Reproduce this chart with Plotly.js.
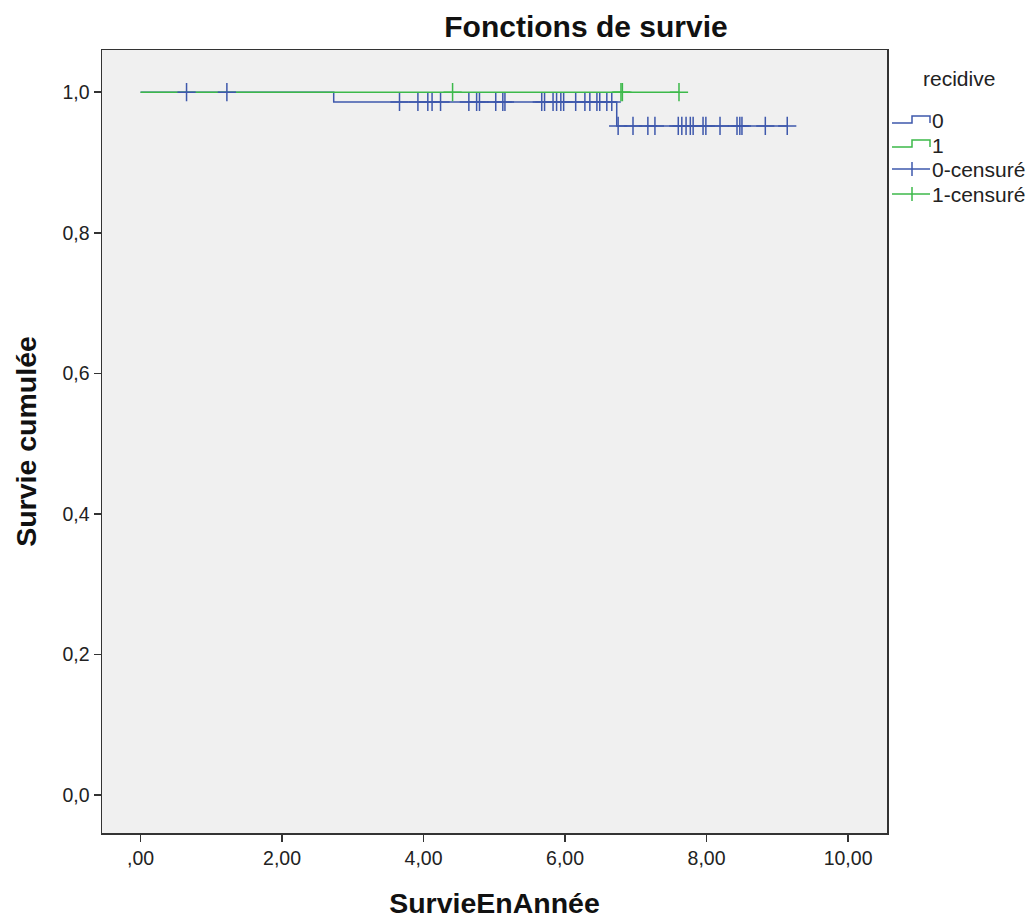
<!DOCTYPE html>
<html>
<head>
<meta charset="utf-8">
<script src="https://cdn.plot.ly/plotly-3.0.1.min.js"></script>
<style>html,body{margin:0;padding:0;background:#fff;}#chart{width:1031px;height:920px;}</style>
</head>
<body>
<div id="chart"></div>
<script>
// recidive = 0 (blue)
const blueEventTimes = [0, 2.73, 6.73];
const blueSurvival = [1.0, 0.986, 0.952];
const blueCensorTimes = [0.65, 1.22, 3.66, 3.92, 4.06, 4.12, 4.24, 4.64, 4.75, 4.79, 5.02, 5.12, 5.15,
  5.67, 5.71, 5.83, 5.88, 5.94, 5.98, 6.15, 6.28, 6.35, 6.45, 6.49, 6.59, 6.66,
  6.75, 6.96, 7.17, 7.27, 7.60, 7.65, 7.71, 7.77, 7.81, 7.95, 7.99, 8.19, 8.43, 8.47, 8.50, 8.83, 9.14];
// recidive = 1 (green)
const greenEventTimes = [0];
const greenSurvival = [1.0];
const greenCensorTimes = [4.41, 6.79, 6.81, 7.61];

const yTickVals = [0, 0.2, 0.4, 0.6, 0.8, 1.0];
const yTickText = ["0,0", "0,2", "0,4", "0,6", "0,8", "1,0"];
const xTickVals = [0, 2, 4, 6, 8, 10];
const xTickText = [",00", "2,00", "4,00", "6,00", "8,00", "10,00"];
const legendTitle = "recidive";
const legendLabels = ["0", "1", "0-censuré", "1-censuré"];

const BLUE = "#3E58AC";
const GREEN = "#3CB94A";

function survAt(times, surv, t) {
  let s = surv[0];
  for (let i = 0; i < times.length; i++) if (times[i] <= t) s = surv[i];
  return s;
}
function curve(times, surv, censors) {
  const last = Math.max(times[times.length - 1], ...censors);
  return { x: times.concat([last]), y: surv.concat([surv[surv.length - 1]]) };
}
function censorPts(times, surv, censors) {
  const x = [], y = [];
  censors.forEach(t => { x.push(t); y.push(survAt(times, surv, t)); });
  return { x, y };
}

const bc = curve(blueEventTimes, blueSurvival, blueCensorTimes);
const gc = curve(greenEventTimes, greenSurvival, greenCensorTimes);
const bm = censorPts(blueEventTimes, blueSurvival, blueCensorTimes);
const gm = censorPts(greenEventTimes, greenSurvival, greenCensorTimes);

const traces = [
  { x: bc.x, y: bc.y, mode: "lines", line: { shape: "hv", color: BLUE, width: 1.5 }, name: legendLabels[0], hoverinfo: "skip" },
  { x: gc.x, y: gc.y, mode: "lines", line: { shape: "hv", color: GREEN, width: 1.5 }, name: legendLabels[1], hoverinfo: "skip" },
  { x: bm.x, y: bm.y, mode: "markers",
    marker: { symbol: "cross-thin-open", size: 13, color: BLUE, line: { color: BLUE, width: 1.5 } }, name: legendLabels[2], hoverinfo: "skip" },
  { x: gm.x, y: gm.y, mode: "markers",
    marker: { symbol: "cross-thin-open", size: 13, color: GREEN, line: { color: GREEN, width: 1.5 } }, name: legendLabels[3], hoverinfo: "skip" }
];

// ---- layout geometry (pixels) ----
const W = 1031, H = 920, ML = 102, MR = 144, MT = 50, MB = 87;
const PW = W - ML - MR, PH = H - MT - MB;
const px = v => (v - ML) / PW;          // pixel x -> paper x
const py = v => (H - MB - v) / PH;      // pixel y -> paper y

const FONT = "Liberation Sans, Arial, sans-serif";
const legendColors = [BLUE, GREEN, BLUE, GREEN];
const itemY = [121, 145, 169, 194];
const shapes = [];
const annotations = [
  { text: legendTitle, xref: "paper", yref: "paper", x: px(959), y: py(78), xanchor: "center", yanchor: "middle",
    showarrow: false, font: { size: 21, family: FONT, color: "#222" } }
];
legendLabels.forEach((lab, i) => {
  const c = legendColors[i], y = itemY[i];
  if (i < 2) {
    shapes.push({ type: "path", xref: "paper", yref: "paper",
      path: `M ${px(892)},${py(y + 2)} H ${px(912)} V ${py(y - 5)} H ${px(930)} V ${py(y + 2)}`,
      line: { color: c, width: 1.5 } });
  } else {
    shapes.push({ type: "line", xref: "paper", yref: "paper", x0: px(892), x1: px(930), y0: py(y), y1: py(y), line: { color: c, width: 1.5 } });
    shapes.push({ type: "line", xref: "paper", yref: "paper", x0: px(912), x1: px(912), y0: py(y - 7), y1: py(y + 7), line: { color: c, width: 1.5 } });
  }
  annotations.push({ text: lab, xref: "paper", yref: "paper", x: px(930), y: py(y), xanchor: "left", yanchor: "middle",
    showarrow: false, font: { size: 21, family: FONT, color: "#222" } });
});

const layout = {
  width: W, height: H,
  margin: { l: ML, r: MR, t: MT, b: MB, autoexpand: false },
  paper_bgcolor: "#ffffff",
  plot_bgcolor: "#F0F0F0",
  font: { family: FONT, color: "#222" },
  showlegend: false,
  title: { text: "<b>Fonctions de survie</b>", font: { size: 30, family: FONT, color: "#111" },
           x: px(586), xanchor: "center", xref: "paper", y: 0.971, yanchor: "middle" },
  xaxis: {
    range: [-0.545, 10.55], showgrid: false, zeroline: false,
    tickvals: xTickVals, ticktext: xTickText, ticks: "outside", ticklen: 7, tickwidth: 1.5, tickcolor: "#333",
    tickfont: { size: 19.5, family: FONT, color: "#222" },
    showline: true, mirror: true, linecolor: "#333", linewidth: 1.5,
    title: { text: "<b>SurvieEnAnnée</b>", font: { size: 28.5, family: FONT, color: "#111" }, standoff: 25 }
  },
  yaxis: {
    range: [-0.054, 1.06], showgrid: false, zeroline: false,
    tickvals: yTickVals, ticktext: yTickText, ticks: "outside", ticklen: 7, tickwidth: 1.5, tickcolor: "#333",
    tickfont: { size: 19.5, family: FONT, color: "#222" },
    showline: true, mirror: true, linecolor: "#333", linewidth: 1.5,
    title: { text: "<b>Survie cumulée</b>", font: { size: 28.5, family: FONT, color: "#111" }, standoff: 17 }
  },
  shapes: shapes,
  annotations: annotations
};

Plotly.newPlot("chart", traces, layout, { displayModeBar: false, staticPlot: true });
</script>
</body>
</html>
